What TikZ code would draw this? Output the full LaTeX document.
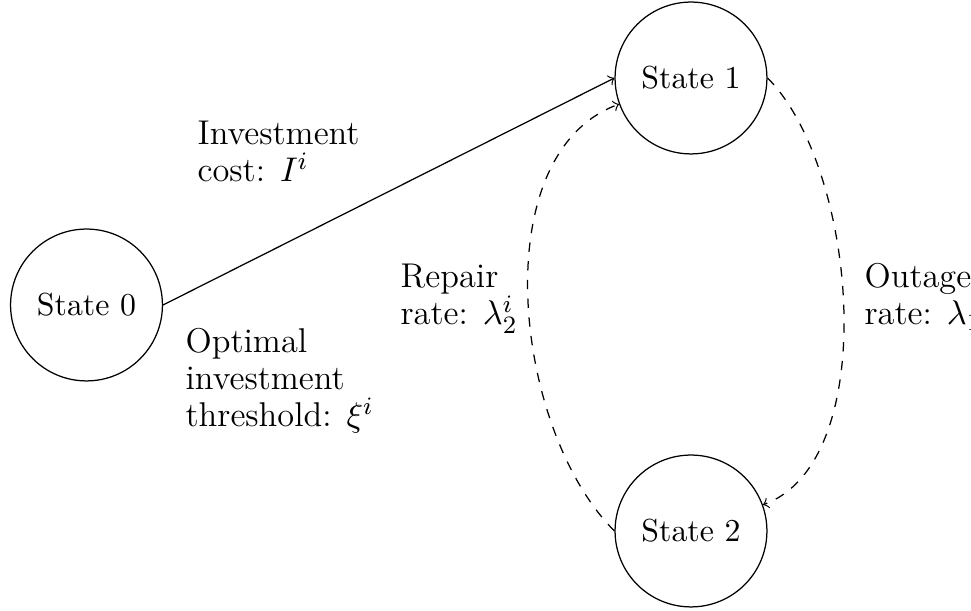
\documentclass[tikz,border=0pt]{standalone}
\begin{document}
\begin{tikzpicture}[x=0.32pt,y=-0.32pt,
  state/.style={circle,draw,minimum size=48.6pt,inner sep=0pt,font=\fontsize{10.2}{12}\selectfont},
  lbl/.style={align=left,anchor=base west,inner sep=0pt,font=\fontsize{11}{11.85}\selectfont}]
\useasboundingbox (0,0) rectangle (971,611);
\node[state] (s0) at (86.5,305) {State 0};
\node[state] (s1) at (691,78) {State 1};
\node[state] (s2) at (691,531) {State 2};
\draw[->] (s0.east) -- (s1.west);
\draw[->,dashed] (s1.east) to[out=-45,in=20,looseness=0.76] (s2);
\draw[->,dashed] (s2.west) to[out=135,in=200,looseness=0.86] (s1);
\node[lbl] (l1) at (197,182) {Investment\\cost: $I^i$};
\node[lbl] (l2) at (185,427) {Optimal\\investment\\threshold: $\xi^i$};
\node[lbl] (l3) at (400,325) {Repair\\rate: $\lambda_2^i$};
\node[lbl] (l4) at (864,325) {Outage\\rate: $\lambda_1$};
\end{tikzpicture}
\end{document}
